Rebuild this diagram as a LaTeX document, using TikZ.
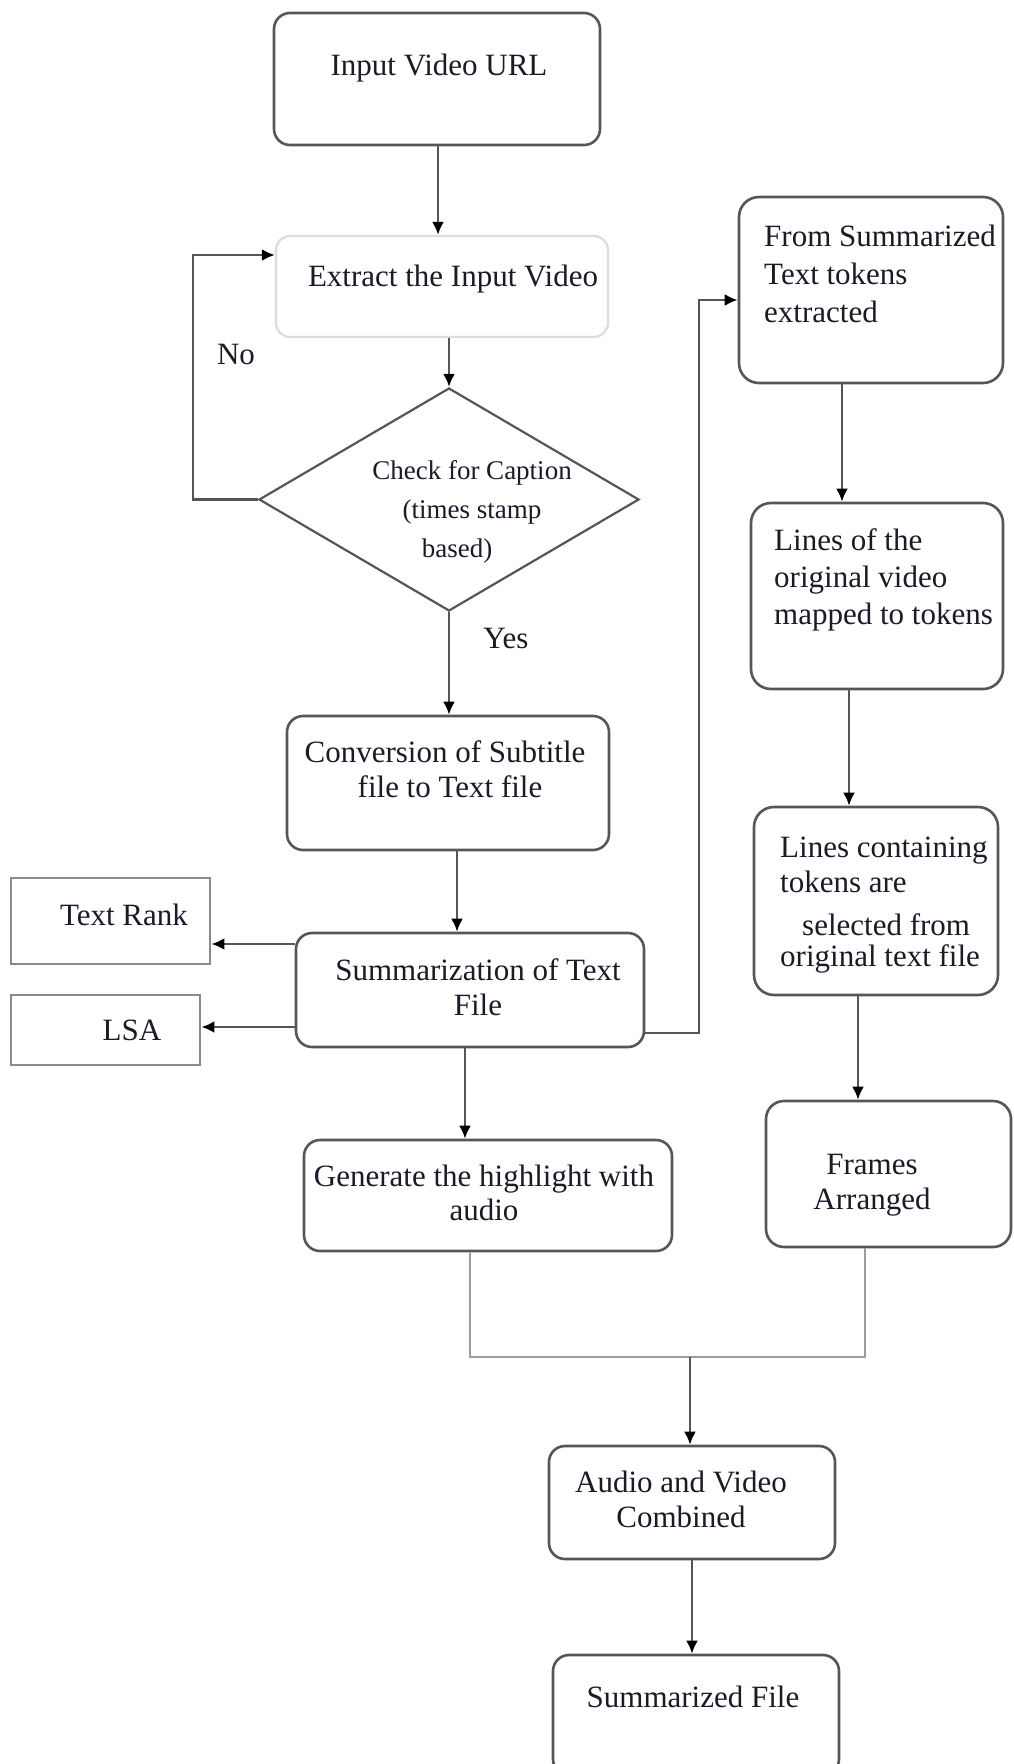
\documentclass[tikz,border=0pt]{standalone}
\usepackage{fontspec}
\setmainfont{Liberation Serif}
\usetikzlibrary{arrows.meta,shapes.geometric}

\definecolor{boxgray}{HTML}{565656}
\definecolor{palegray}{HTML}{DCDCDC}
\definecolor{sidegray}{HTML}{8A8A8A}
\definecolor{linegray}{HTML}{555555}
\definecolor{joingray}{HTML}{9C9C9C}
\definecolor{ink}{HTML}{1A1A28}

\begin{document}
\begin{tikzpicture}[x=1pt,y=-1pt,
  box/.style={draw=boxgray, line width=2.6pt, rounded corners=16pt, inner sep=0pt},
  palebox/.style={draw=palegray, line width=2.2pt, rounded corners=14pt, inner sep=0pt},
  sidebox/.style={draw=sidegray, line width=2.8pt, inner sep=0pt},
  decision/.style={draw=boxgray, line width=2.2pt, diamond, inner sep=0pt},
  txt/.style={text=ink, font=\fontsize{31}{36}\selectfont, inner sep=0pt, align=center},
  ltxt/.style={text=ink, font=\fontsize{31}{37}\selectfont, inner sep=0pt, align=left},
  dtxt/.style={text=ink, font=\fontsize{27}{39}\selectfont, inner sep=0pt, align=center},
  arr/.style={draw=linegray, line width=2.6pt, -{Latex[length=13pt,width=12pt,color=black]}},
  joinline/.style={draw=joingray, line width=2pt},
]
\clip (0,0) rectangle (1014,1764);
\fill[white] (0,0) rectangle (1014,1764);

% main column
\node[box, minimum width=326pt, minimum height=132pt] (url) at (437,79) {};
\node[txt] (urlt) at (439,68) {Input Video URL};

\node[palebox, minimum width=332pt, minimum height=101pt] (extract) at (442,286.5) {};
\node[txt] (extractt) at (453,279) {Extract the Input Video};

\node[decision, minimum width=380pt, minimum height=223pt] (check) at (449,499.5) {};
\node[dtxt] (checkt) at (472,512) {Check for Caption\\(times stamp\\based)\hspace*{30pt}};

\node[box, minimum width=322pt, minimum height=134pt] (conv) at (448,783) {};
\node[txt, font=\fontsize{31}{35}\selectfont] (convt) at (445,769) {Conversion of Subtitle\\\hspace*{10pt}file to Text file};

\node[box, minimum width=348pt, minimum height=114pt] (summ) at (470,990) {};
\node[txt, font=\fontsize{31}{35}\selectfont] (summt) at (478,987) {Summarization of Text\\File};

\node[sidebox, minimum width=199pt, minimum height=86pt] (rank) at (110.5,921) {};
\node[txt] (rankt) at (124,915) {Text Rank};

\node[sidebox, minimum width=189pt, minimum height=70pt] (lsa) at (105.5,1030) {};
\node[txt] (lsat) at (132,1030) {LSA};

\node[box, minimum width=368pt, minimum height=111pt] (gen) at (488,1195.5) {};
\node[txt, font=\fontsize{31}{34}\selectfont] (gent) at (484,1193) {Generate the highlight with\\audio};

% right column
\node[box, rounded corners=20pt, minimum width=264pt, minimum height=186pt] (tok) at (871,290) {};
\node[ltxt, anchor=west, font=\fontsize{31}{38}\selectfont] (tokt) at (764,274) {From Summarized\\Text tokens\\extracted};

\node[box, rounded corners=20pt, minimum width=252pt, minimum height=186pt] (map) at (877,596) {};
\node[ltxt, anchor=west] (mapt) at (774,580) {Lines of the\\original video\\mapped to tokens};

\node[box, rounded corners=20pt, minimum width=244pt, minimum height=188pt] (sel) at (876,901) {};
\node[ltxt, anchor=west, font=\fontsize{31}{35}\selectfont] (selt) at (780,905)
  {Lines containing\\tokens are\\[8pt]\hspace*{22pt}selected from\\[-4pt]original text file};

\node[box, rounded corners=18pt, minimum width=245pt, minimum height=146pt] (frames) at (888.5,1174) {};
\node[txt, font=\fontsize{31}{35}\selectfont] (framest) at (872,1185) {Frames\\Arranged};

% output column
\node[box, minimum width=286pt, minimum height=113pt] (av) at (692,1502.5) {};
\node[txt, font=\fontsize{31}{35}\selectfont] (avt) at (681,1499) {Audio and Video\\Combined};

\node[box, minimum width=286pt, minimum height=120pt] (out) at (696,1715) {};
\node[txt] (outt) at (693,1697) {Summarized File};

% labels of the decision
\node[txt] (no) at (236,354) {No};
\node[txt] (yes) at (506,638) {Yes};

% connectors
\draw[arr] (url.south -| 438,0) -- (extract.north -| 438,0);
\draw[arr] (extract.south -| check.north) -- (check.north);
\draw[arr] (check.west) -- ++(-65,0) |- (extract.west |- 0,255);
\draw[arr] (check.south) -- (check.south |- conv.north);
\draw[arr] (conv.south -| 457,0) -- (summ.north -| 457,0);
\draw[arr] (summ.west |- 0,944) -- (rank.east |- 0,944);
\draw[arr] (summ.west |- 0,1027) -- (lsa.east |- 0,1027);
\draw[arr] (summ.south -| 465,0) -- (gen.north -| 465,0);
\draw[arr] (summ.east |- 0,1033) -| (699,300) -- (tok.west |- 0,300);
\draw[arr] (tok.south -| 842,0) -- (map.north -| 842,0);
\draw[arr] (map.south -| 849,0) -- (sel.north -| 849,0);
\draw[arr] (sel.south -| 858,0) -- (frames.north -| 858,0);

\coordinate (join) at (690,1357);
\draw[joinline] (gen.south -| 470,0) -- (470,1357) -- (865,1357) -- (frames.south -| 865,0);
\draw[arr] (join) -- (join |- av.north);
\draw[arr] (av.south) -- (av.south |- out.north);
\end{tikzpicture}
\end{document}
